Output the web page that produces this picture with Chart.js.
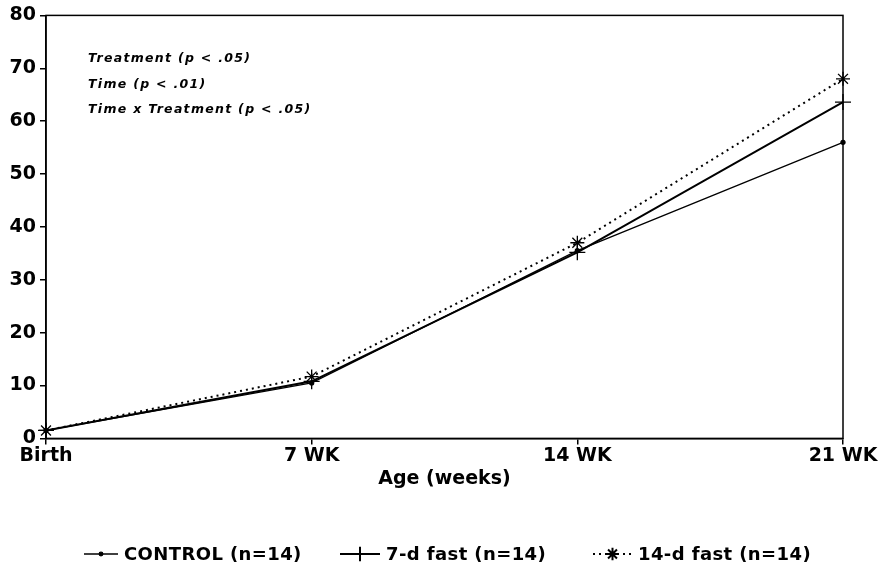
<!DOCTYPE html>
<html>
<head>
<meta charset="utf-8">
<script src="https://cdn.jsdelivr.net/npm/chart.js@4.4.0/dist/chart.umd.min.js"></script>
<style>
  html, body { margin: 0; padding: 0; background: #fff; }
  #wrap { width: 885px; height: 573px; position: relative; }
</style>
</head>
<body>
<div id="wrap"><canvas id="chart"></canvas></div>
<script>
// data
const ages = ['Birth', '7 WK', '14 WK', '21 WK'];
const controlVals = [1.5, 10.5, 35.5, 56];
const fast7Vals = [1.5, 10.8, 35.2, 63.6];
const fast14Vals = [1.5, 11.7, 37, 68];
const seriesNames = ['CONTROL (n=14)', '7-d fast (n=14)', '14-d fast (n=14)'];
const yTicks = [0, 10, 20, 30, 40, 50, 60, 70, 80];
const notes = ['Treatment (p < .05)', 'Time (p < .01)', 'Time x Treatment (p < .05)'];

const FONT = '"DejaVu Sans", sans-serif';

const series = [
  { label: seriesNames[0], data: controlVals, borderWidth: 1.3, dash: [], pointStyle: 'circle', pointRadius: 2 },
  { label: seriesNames[1], data: fast7Vals, borderWidth: 2, dash: [], pointStyle: 'cross', pointRadius: 8 },
  { label: seriesNames[2], data: fast14Vals, borderWidth: 2, dash: [2, 4], pointStyle: 'star', pointRadius: 7 },
];

// frame, notes and the bottom legend
const extras = {
  id: 'extras',
  afterDraw(chart) {
    const ctx = chart.ctx;
    const a = chart.chartArea;
    ctx.save();
    ctx.strokeStyle = '#000';
    ctx.lineWidth = 1.5;
    ctx.strokeRect(a.left, a.top, a.right - a.left, a.bottom - a.top);

    ctx.fillStyle = '#000';
    ctx.font = 'italic bold 12.5px ' + FONT;
    ctx.letterSpacing = '1.3px';
    ctx.textBaseline = 'alphabetic';
    ctx.textAlign = 'left';
    notes.forEach((t, i) => ctx.fillText(t, 88, 62 + i * 25.5));
    ctx.letterSpacing = '0px';

    // legend
    const items = [
      { x1: 84, x2: 118, tx: 124 },
      { x1: 340, x2: 380, tx: 386 },
      { x1: 593, x2: 632, tx: 638 },
    ];
    const ly = 554;
    ctx.font = 'bold 18px ' + FONT;
    ctx.letterSpacing = '0.4px';
    ctx.textBaseline = 'middle';
    items.forEach((it, i) => {
      const s = series[i];
      ctx.lineWidth = s.borderWidth;
      ctx.setLineDash(s.dash);
      ctx.beginPath();
      ctx.moveTo(it.x1, ly);
      ctx.lineTo(it.x2, ly);
      ctx.stroke();
      ctx.setLineDash([]);
      Chart.helpers.drawPoint(ctx, {
        pointStyle: s.pointStyle, radius: s.pointRadius * 0.9, rotation: 0, borderWidth: 1.3
      }, (it.x1 + it.x2) / 2, ly);
      ctx.fillText(s.label, it.tx, ly + 1);
    });
    ctx.restore();
  }
};

new Chart(document.getElementById('chart'), {
  type: 'line',
  data: {
    labels: ages,
    datasets: series.map(s => ({
      label: s.label,
      data: s.data,
      borderColor: '#000',
      backgroundColor: '#000',
      borderWidth: s.borderWidth,
      borderDash: s.dash,
      pointStyle: s.pointStyle,
      pointRadius: s.pointRadius,
      pointBorderWidth: 1.3,
      pointBorderColor: '#000',
      pointBackgroundColor: '#000',
      tension: 0,
      fill: false,
    })),
  },
  options: {
    responsive: true,
    maintainAspectRatio: false,
    animation: false,
    layout: { padding: { top: 15, right: 42, bottom: 83, left: 0 } },
    plugins: {
      legend: { display: false },
      tooltip: { enabled: false },
    },
    scales: {
      x: {
        offset: false,
        grid: { display: true, drawOnChartArea: false, drawTicks: true, tickLength: 6, color: '#000', lineWidth: 1.5 },
        border: { color: '#000', width: 1.5 },
        ticks: { color: '#000', font: { family: FONT, weight: 'bold', size: 19 }, padding: 0, maxRotation: 0, autoSkip: false },
        title: { display: true, text: 'Age (weeks)', color: '#000', font: { family: FONT, weight: 'bold', size: 19 }, padding: { top: 0, bottom: 0 } },
      },
      y: {
        min: 0,
        max: 80,
        afterFit(scale) { scale.width = 46; },
        afterBuildTicks(scale) { scale.ticks = yTicks.map(v => ({ value: v })); },
        grid: { display: true, drawOnChartArea: false, drawTicks: true, tickLength: 6, color: '#000', lineWidth: 1.5 },
        border: { color: '#000', width: 1.5 },
        ticks: { color: '#000', font: { family: FONT, weight: 'bold', size: 19 }, padding: 4 },
      },
    },
  },
  plugins: [extras],
});
</script>
</body>
</html>
